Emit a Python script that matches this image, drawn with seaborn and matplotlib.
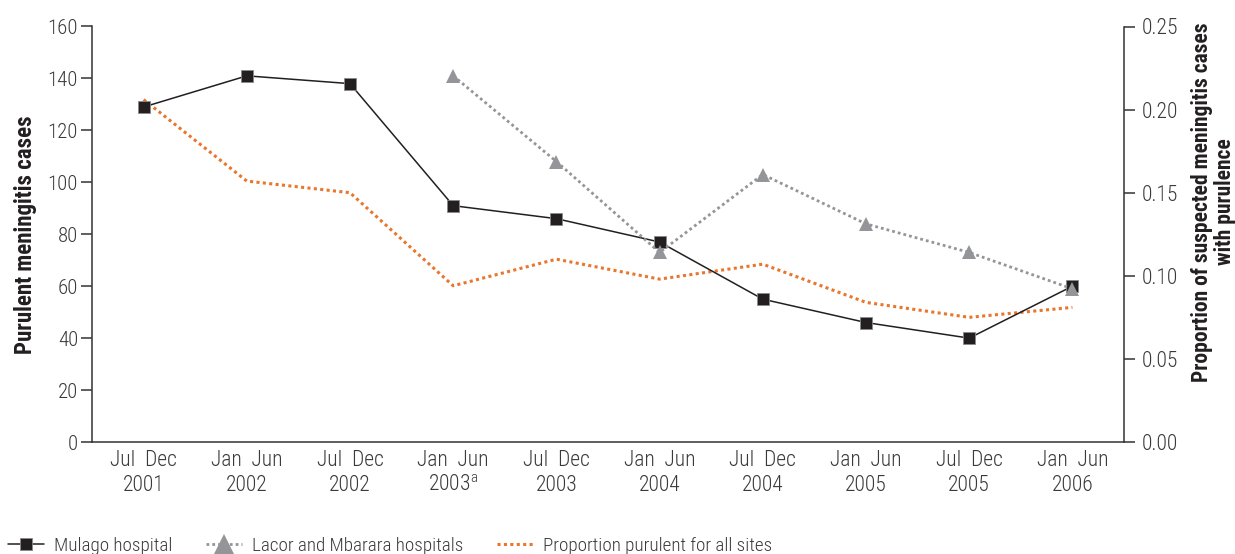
import numpy as np
import pandas as pd
import matplotlib
matplotlib.use("Agg")
import matplotlib.pyplot as plt
from matplotlib.lines import Line2D
import seaborn as sns

# Half-year periods
periods = ["Jul  Dec\n2001", "Jan  Jun\n2002", "Jul  Dec\n2002", "Jan  Jun\n2003$^{\\mathregular{a}}$",
           "Jul  Dec\n2003", "Jan  Jun\n2004", "Jul  Dec\n2004", "Jan  Jun\n2005",
           "Jul  Dec\n2005", "Jan  Jun\n2006"]

# Purulent meningitis cases per period
mulago = [129, 141, 138, 91, 86, 77, 55, 46, 40, 60]
lacor_mbarara = [np.nan, np.nan, np.nan, 141, 108, 73, 103, 84, 73, 59]

# Proportion of suspected cases with purulence, all sites
proportion = [0.206, 0.157, 0.150, 0.094, 0.110, 0.098, 0.107, 0.084, 0.075, 0.081]

sns.set_style("white")
FAMILY = ["Roboto Condensed", "Fira Sans Condensed", "Barlow Semi Condensed",
          "Archivo Narrow", "DejaVu Sans"]
plt.rcParams["font.family"] = FAMILY
plt.rcParams["mathtext.default"] = "regular"

TXT = "#3a3a3a"
DARK = "#231f20"
GREY = "#939598"
ORANGE = "#e8762d"
AXC = "#333333"

df = pd.DataFrame({
    "pos": np.arange(len(periods)),
    "mulago": mulago,
    "lacor": lacor_mbarara,
    "prop": proportion,
})

fig = plt.figure(figsize=(12.35, 5.54), dpi=100)
ax = fig.add_axes([92 / 1235, 1 - 442 / 554, (1124 - 92) / 1235, (442 - 26.5) / 554])
ax2 = ax.twinx()

sns.lineplot(data=df, x="pos", y="prop", ax=ax2, color=ORANGE, lw=2.2,
             linestyle=(0, (1, 1.1)), legend=False)
sns.lineplot(data=df, x="pos", y="mulago", ax=ax, color=DARK, lw=1.1,
             marker="s", markersize=8.5, markeredgecolor="#8a8a8a",
             markeredgewidth=0.6, legend=False)
sns.lineplot(data=df.dropna(subset=["lacor"]), x="pos", y="lacor", ax=ax, color=GREY,
             lw=2.0, linestyle=(0, (1, 1.1)), marker="^", markersize=10.5,
             markeredgecolor=GREY, markeredgewidth=0, legend=False)

# keep case series above the proportion line
ax.set_zorder(ax2.get_zorder() + 1)
ax.patch.set_visible(False)

ax.set_xlim(-0.5, len(periods) - 0.5)
ax.set_ylim(0, 160)
ax2.set_ylim(0, 0.25)

ax.set_yticks(np.arange(0, 161, 20))
ax2.set_yticks([0.0, 0.05, 0.10, 0.15, 0.20, 0.25])
ax2.set_yticklabels([f"{v:.2f}" for v in [0.0, 0.05, 0.10, 0.15, 0.20, 0.25]])

ax.set_xticks(np.arange(len(periods)))
ax.set_xticklabels(periods, linespacing=1.2, fontweight="light")
ax.set_xticks(np.arange(-0.5, len(periods)), minor=True)
ax.tick_params(axis="x", which="major", length=0, pad=6, labelsize=15.5, labelcolor=TXT)
ax.tick_params(axis="x", which="minor", length=5.5, width=1.1, color=AXC, direction="out")
ax.tick_params(axis="y", which="major", length=8, width=1.1, color=AXC,
               direction="out", labelsize=15, labelcolor=TXT, pad=2)
ax2.tick_params(axis="y", which="major", length=8, width=1.1, color=AXC,
                direction="out", labelsize=15.5, labelcolor=TXT, pad=5)
for lab in ax.get_yticklabels() + ax2.get_yticklabels():
    lab.set_fontweight("light")

for a in (ax, ax2):
    for s in a.spines.values():
        s.set_color(AXC)
        s.set_linewidth(1.1)
    a.spines["top"].set_visible(False)
ax.spines["right"].set_visible(False)
ax2.spines["left"].set_visible(False)
ax2.spines["bottom"].set_visible(False)

ax.set_xlabel("")
ax.set_ylabel("Purulent meningitis cases", fontsize=16.5, fontweight="bold",
              color=DARK, labelpad=8)
ax2.set_ylabel("Proportion of suspected meningitis cases\nwith purulence", fontsize=15.5,
               fontweight="bold", color=DARK, linespacing=1.05)
ax2.yaxis.set_label_coords((1191 - 92) / 1032, (442 - 202) / 415.5)

handles = [
    Line2D([], [], color=DARK, lw=1.1, marker="s", markersize=8.8,
           markeredgecolor="#8a8a8a", markeredgewidth=0.6),
    Line2D([], [], color=GREY, lw=2.0, linestyle=(0, (1, 1.1)), marker="^",
           markersize=14, markeredgewidth=0),
    Line2D([], [], color=ORANGE, lw=2.2, linestyle=(0, (1, 1.1))),
]
labels = ["Mulago hospital", "Lacor and Mbarara hospitals", "Proportion purulent for all sites"]
leg = fig.legend(handles, labels, loc="center left", bbox_to_anchor=(8 / 1235, 1 - 546 / 554),
                 ncol=3, frameon=False, handlelength=1.9, handletextpad=0.5,
                 columnspacing=1.75, borderaxespad=0, borderpad=0,
                 prop={"weight": "light", "size": 13.8})
for t in leg.get_texts():
    t.set_color(TXT)

fig.savefig("out.png", dpi=100)
